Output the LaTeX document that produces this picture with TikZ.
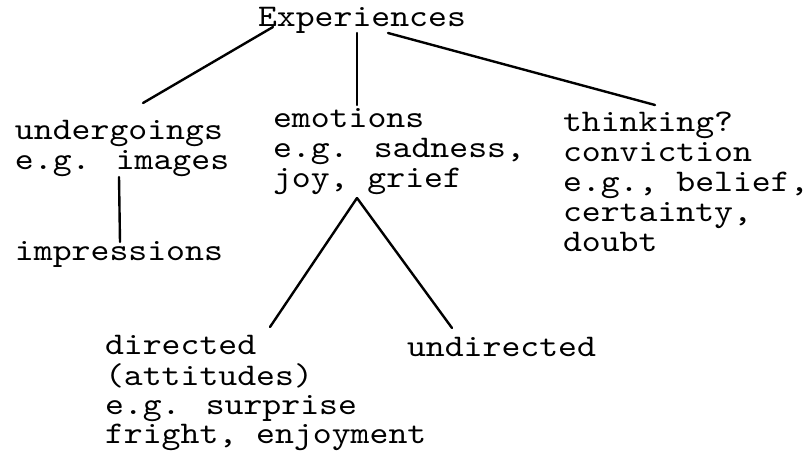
\documentclass[tikz,border=0pt]{standalone}
\usepackage{fontspec}
\newfontfamily\cmono{lmmono10-regular.otf}[FakeStretch=1.143]
\newcommand\mlines[1]{\begin{tabular}[t]{@{}l@{}}#1\end{tabular}}
\begin{document}
\begin{tikzpicture}[x=1pt,y=-1pt,
  lbl/.style={anchor=base west,inner sep=0pt,outer sep=0pt,font=\cmono\fontsize{31.5pt}{30pt}\selectfont},
  conn/.style={line width=2.4pt,line cap=round}]
\useasboundingbox (0,0) rectangle (812,454);
\node[lbl] (exp) at (258,27) {Experiences};
\node[lbl] (und) at (15,140) {\mlines{undergoings\\e.g. images}};
\node[lbl] (imp) at (15,261) {impressions};
\node[lbl] (emo) at (273,128) {\mlines{emotions\\e.g. sadness,\\joy, grief}};
\node[lbl] (thk) at (563,132) {\mlines{thinking?\\conviction\\e.g., belief,\\certainty,\\doubt}};
\node[lbl,font=\cmono\fontsize{31.5pt}{29pt}\selectfont] (dir) at (105,355) {\mlines{directed\\(attitudes)\\e.g. surprise\\fright, enjoyment}};
\node[lbl] (udr) at (407,357) {undirected};
\coordinate (e1) at (273,27);
\coordinate (e2) at (357,33);
\coordinate (e3) at (388,33);
\coordinate (u0) at (143,103);
\coordinate (m0) at (357,105);
\coordinate (t0) at (655,105);
\coordinate (u1) at (119,177);
\coordinate (i0) at (120,242);
\coordinate (m1) at (357,198);
\coordinate (d0) at (270,327);
\coordinate (n0) at (452,328);
\draw[conn] (e1) -- (u0);
\draw[conn] (e2) -- (m0);
\draw[conn] (e3) -- (t0);
\draw[conn] (u1) -- (i0);
\draw[conn] (m1) -- (d0);
\draw[conn] (m1) -- (n0);
\end{tikzpicture}
\end{document}
